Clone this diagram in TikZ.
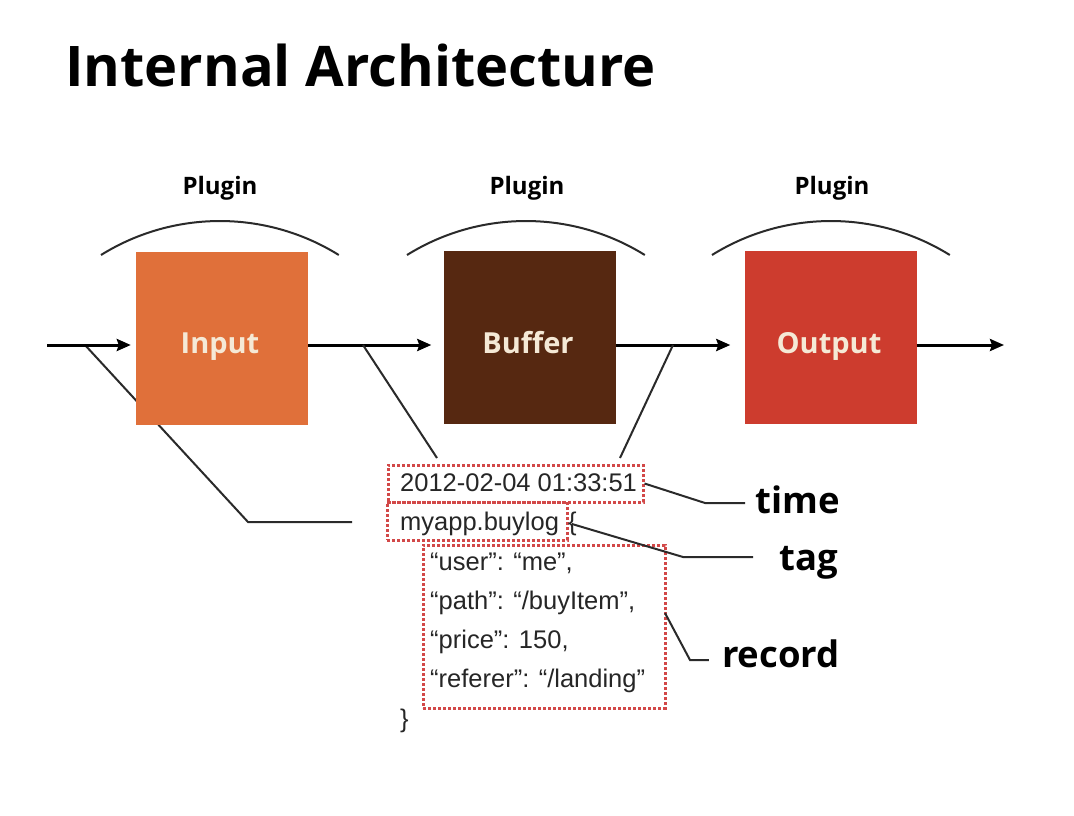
\documentclass[tikz,border=0pt]{standalone}
\usepackage{fontspec}
\setmainfont{Open Sans}
\newfontfamily\recfont{Liberation Sans}
\usetikzlibrary{arrows.meta}

\definecolor{inputc}{HTML}{E0703A}
\definecolor{bufferc}{HTML}{562811}
\definecolor{outputc}{HTML}{CD3C2E}
\definecolor{labelc}{HTML}{F5E9D6}
\definecolor{dotc}{HTML}{D24848}
\definecolor{linec}{HTML}{2A2A2A}

\tikzset{
  stage/.style={minimum width=172pt, minimum height=173pt, inner sep=0pt},
  stagetext/.style={text=labelc, font=\fontsize{29}{31}\selectfont\bfseries, anchor=base, inner sep=0pt},
  flow/.style={line width=3pt, draw=black, -{Stealth[length=14pt,width=12pt,inset=2pt]}},
  link/.style={line width=2pt, draw=linec},
  hood/.style={line width=2pt, draw=linec},
  plug/.style={font=\fontsize{24}{26}\selectfont\bfseries, anchor=base},
  dotbox/.style={draw=dotc, line width=3pt, dash pattern=on 2.8pt off 2.2pt, inner sep=0pt},
  rec/.style={font=\recfont\fontsize{25.5}{27}\selectfont, text=black!85, anchor=base west, inner sep=0pt},
  kind/.style={font=\fontsize{36.5}{38}\selectfont\bfseries, anchor=base east, inner sep=0pt}
}

\begin{document}
\begin{tikzpicture}[x=1pt,y=-1pt]
\useasboundingbox[fill=white] (0,0) rectangle (1074,816);

% title
\node[anchor=base west, inner sep=0pt, font=\fontsize{56}{60}\selectfont\bfseries] (title) at (65,86) {Internal Architecture};

% points on the main flow line
\coordinate (src) at (47,345);
\coordinate (sink) at (1004,345);
\coordinate (tapA) at (85,345);
\coordinate (tapB) at (363,345);
\coordinate (tapC) at (673,345);
\coordinate (bendA) at (248,522);
\coordinate (endA) at (352,522);

% tap from the input side runs behind the Input box
\draw[link] (tapA) -- (bendA) -- (endA);

% plugin stages
\node[stage, fill=inputc] (input) at (222,338.5) {};
\node[stage, fill=bufferc] (buffer) at (529.5,337) {};
\node[stage, fill=outputc] (output) at (830.5,337) {};
\node[stagetext] (inputlbl) at (220,353) {Input};
\node[stagetext] (bufferlbl) at (528,353) {Buffer};
\node[stagetext] (outputlbl) at (829,353) {Output};

% plugin hoods and labels
\draw[hood] (101,255) arc[start angle=121.9, end angle=58.1, radius=225pt];
\draw[hood] (407,255) arc[start angle=121.9, end angle=58.1, radius=225pt];
\draw[hood] (712,255) arc[start angle=121.9, end angle=58.1, radius=225pt];
\node[plug] (plugA) at (220,194) {Plugin};
\node[plug] (plugB) at (527,194) {Plugin};
\node[plug] (plugC) at (832,194) {Plugin};

% main flow
\draw[flow, shorten >=5pt] (src) -- (src -| input.west);
\draw[flow, shorten >=12pt] (input.east |- src) -- (buffer.west |- src);
\draw[flow, shorten >=14pt] (buffer.east |- src) -- (output.west |- src);
\draw[flow] (output.east |- src) -- (sink);

% event record
\node[dotbox, minimum width=255pt, minimum height=37pt] (tsbox) at (515.5,483.5) {};
\node[dotbox, minimum width=180pt, minimum height=38pt] (tagbox) at (477,521) {};
\node[dotbox, minimum width=242pt, minimum height=163pt] (recbox) at (544,626.5) {};

\node[rec] (ts) at (400,491) {2012-02-04 01:33:51};
\node[rec] (tag) at (400,530) {myapp.buylog};
\node[rec] (open) at (568,530) {\{};
\node[rec] (r1) at (430,570) {“user”: “me”,};
\node[rec] (r2) at (430,609) {“path”: “/buyItem”,};
\node[rec] (r3) at (430,648) {“price”: 150,};
\node[rec] (r4) at (430,687) {“referer”: “/landing”};
\node[rec] (close) at (400,727) {\}};

% taps from the buffer stage down to the timestamp
\coordinate (tsA) at (437,458);
\coordinate (tsB) at (620,458);
\draw[link] (tapB) -- (tsA);
\draw[link] (tapC) -- (tsB);

% field names
\node[kind] (ktime) at (840,513) {time};
\node[kind] (ktag) at (838,570) {tag};
\node[kind] (krec) at (840,667) {record};

\coordinate (tagpt) at (572,524);
\coordinate (recpt) at (665,613);
\draw[link] (tsbox.east) -- (705,503) -- ([xshift=-10pt]ktime.west |- 0,503);
\draw[link] (tagpt) -- (683,557) -- ([xshift=-26pt]ktag.west |- 0,557);
\draw[link] (recpt) -- (690,660) -- ([xshift=-13pt]krec.west |- 0,660);
\end{tikzpicture}
\end{document}
